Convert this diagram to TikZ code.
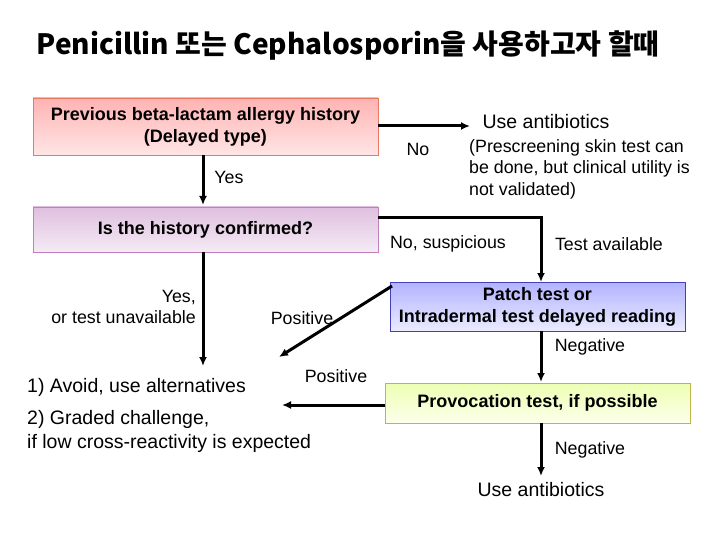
\documentclass[tikz,border=0pt]{standalone}
\usepackage{fontspec}
\usetikzlibrary{arrows.meta}
\setmainfont{Liberation Sans}
\newfontfamily\kr{Noto Sans CJK KR}
\begin{document}
\begin{tikzpicture}[x=1pt,y=-1pt,
 boxb/.style={minimum height=0pt, inner sep=0pt, font=\fontsize{18}{22}\selectfont\bfseries, align=center},
 lbl/.style={font=\fontsize{17.8}{21.5}\selectfont, inner sep=0pt, align=left},
 big/.style={font=\fontsize{19.5}{24}\selectfont},
 arr/.style={-{Latex[length=9pt,width=8pt]}, line width=3pt}]
\useasboundingbox (0,0) rectangle (720,540);
\node[font=\kr\bfseries\fontsize{28}{32}\selectfont, anchor=west] (title) at (33,46) {Penicillin 또는 Cephalosporin을 사용하고자 할때};
\path[draw=red!50!brown!70, top color=red!30, bottom color=red!10] (33,98) rectangle (378,155);
\node[boxb] (b1) at (205.5,127) {Previous beta-lactam allergy history\\(Delayed type)};
\coordinate (b1r) at (378,126);
\path[draw=violet!50, top color=violet!25, bottom color=violet!8] (33,207) rectangle (378,252);
\node[boxb] (b2) at (205.5,230) {Is the history confirmed?};
\path[draw=blue!50!gray, top color=blue!30, bottom color=blue!8] (390,282) rectangle (685,331);
\node[boxb] (b3) at (537.5,307) {Patch test or\\Intradermal test delayed reading};
\path[draw=olive!60, top color=green!25!yellow!30, bottom color=green!10!yellow!8] (385,383) rectangle (690,423);
\node[boxb] (b4) at (537.5,403) {Provocation test, if possible};
\node[lbl, big] (ua1) at (546,122) {Use antibiotics};
\node[lbl] (no) at (418,149) {No};
\node[lbl, anchor=north west] (pre) at (469,139) {(Prescreening skin test can\\be done, but clinical utility is\\not validated)};
\node[lbl] (yes) at (229,177) {Yes};
\node[lbl] (nos) at (448,244) {No, suspicious};
\node[lbl] (ta) at (609,244) {Test available};
\node[lbl, align=right, anchor=east] (yt) at (196,307) {Yes,\\or test unavailable};
\node[lbl] (pos1) at (302,318) {Positive};
\node[lbl] (neg1) at (590,347) {Negative};
\node[lbl] (pos2) at (336,376) {Positive};
\node[lbl] (neg2) at (590,450) {Negative};
\node[lbl, big] (ua2) at (541,490) {Use antibiotics};
\node[lbl, big, anchor=west] (av) at (27,387) {1) Avoid, use alternatives};
\node[lbl, big, font=\fontsize{19.5}{24}\selectfont, anchor=north west] (gc) at (27,410) {2) Graded challenge,\\if low cross-reactivity is expected};
\coordinate (e1) at (470,126);
\draw[arr] (b1r) -- (e1);
\draw[arr] (203,155) -- (203,205);
\draw[arr] (378,218) -- (541,218) -- (541,282);
\draw[arr] (203,252) -- (203,366);
\draw[arr] (392,286) -- (279,357);
\draw[arr] (541,331) -- (541,382);
\draw[arr] (385,405) -- (282,405);
\draw[arr] (541,423) -- (541,476);
\end{tikzpicture}
\end{document}
